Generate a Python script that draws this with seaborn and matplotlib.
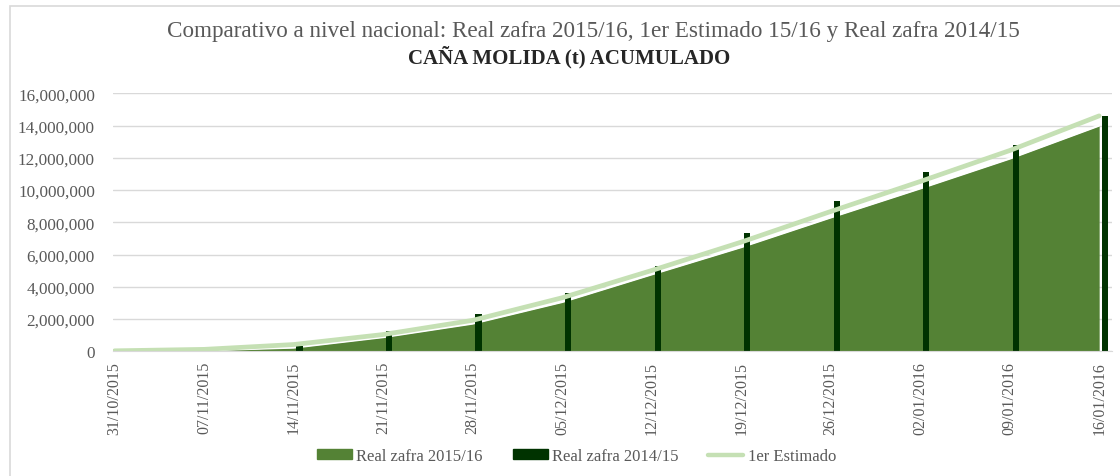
#!/usr/bin/env python3

import numpy as np
import seaborn as sns
import matplotlib.pyplot as plt
from matplotlib.patches import Patch, Rectangle
from matplotlib.lines import Line2D
from matplotlib.ticker import FuncFormatter

dates = ["31/10/2015", "07/11/2015", "14/11/2015", "21/11/2015", "28/11/2015",
         "05/12/2015", "12/12/2015", "19/12/2015", "26/12/2015", "02/01/2016",
         "09/01/2016", "16/01/2016"]
real_1516 = [10000, 60000, 230000, 880000, 1720000, 3060000, 4770000,
             6460000, 8300000, 10100000, 11950000, 14000000]
real_1415 = [15000, 90000, 310000, 1280000, 2330000, 3630000, 5260000,
             7330000, 9310000, 11150000, 12800000, 14610000]
estimado = [30000, 120000, 420000, 1040000, 1920000, 3320000, 5010000,
            6770000, 8670000, 10530000, 12450000, 14600000]

c_area = "#548235"
c_bar = "#003300"
c_line = "#c5e0b4"
c_grid = "#d9d9d9"
c_text = "#595959"

sns.set_style("white")
plt.rcParams["font.family"] = ["Liberation Serif", "DejaVu Serif"]

fig = plt.figure(figsize=(11.2, 4.77), dpi=100)
ax = fig.add_axes([113 / 1120, 1 - 352.3 / 477, (1111.7 - 113) / 1120, (352.3 - 94.3) / 477])

x = np.arange(len(dates))

# area: Real zafra 2015/16
ax.fill_between(x, real_1516, color=c_area, linewidth=0, zorder=2)
ax.plot(x, real_1516, color="white", lw=1.6, zorder=2.5)

# bars: Real zafra 2014/15
ax.bar(x + 0.068, real_1415, width=0.072, color=c_bar, linewidth=0, zorder=3)

# line: 1er Estimado
sns.lineplot(x=x, y=estimado, color=c_line, lw=3.4, ax=ax, zorder=4)

ax.set_xlim(-0.018, 11.14)
ax.set_ylim(0, 16000000)
ax.set_yticks(np.arange(0, 16000001, 2000000))
ax.yaxis.set_major_formatter(FuncFormatter(lambda v, p: f"{v:,.0f}"))
ax.grid(axis="y", color=c_grid, lw=1)
ax.set_axisbelow(True)

ax.set_xticks(x)
ax.set_xticklabels(dates, rotation=90)
for s in ["top", "right", "left"]:
    ax.spines[s].set_visible(False)
ax.spines["bottom"].set_color(c_grid)
ax.spines["bottom"].set_zorder(5)
ax.tick_params(axis="x", length=4, color=c_grid, pad=3, labelsize=11.5, labelcolor=c_text)
ax.tick_params(axis="y", length=0, pad=13, labelsize=12.3, labelcolor=c_text)
ax.set_xlabel("")
ax.set_ylabel("")

fig.text(0.5295, 1 - 31 / 477,
         "Comparativo a nivel nacional: Real zafra 2015/16, 1er Estimado 15/16 y Real zafra 2014/15",
         ha="center", va="center", fontsize=16.7, color=c_text)
fig.text(0.5085, 1 - 57 / 477, "CAÑA MOLIDA (t) ACUMULADO",
         ha="center", va="center", fontsize=15, fontweight="bold", color="#262626")

handles = [Patch(color=c_area), Patch(color=c_bar), Line2D([0], [0], color=c_line, lw=3.2)]
labels = ["Real zafra 2015/16", "Real zafra 2014/15", "1er Estimado"]
fig.legend(handles, labels, loc="center", bbox_to_anchor=(0.5148, 1 - 457 / 477),
           ncol=3, frameon=False, fontsize=12, labelcolor=c_text,
           handlelength=2.1, handleheight=0.5, handletextpad=0.25, columnspacing=1.8)

# chart border
fig.patches.append(Rectangle((10 / 1120, -0.2), 1.2, 1.2 - 7 / 477,
                             transform=fig.transFigure, fill=False,
                             edgecolor=c_grid, lw=1.2))

fig.savefig("out.png", dpi=100)
